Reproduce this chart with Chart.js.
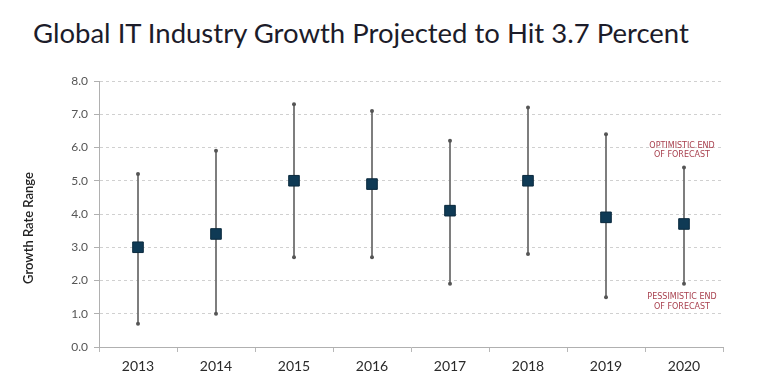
<!DOCTYPE html>
<html>
<head>
<meta charset="utf-8">
<script src="https://cdn.jsdelivr.net/npm/chart.js@4"></script>
<style>
  html, body { margin: 0; padding: 0; background: #fff; }
  #wrap { position: relative; width: 770px; height: 376px; }
  #title {
    position: absolute; left: 33px; top: 19px;
    font-family: Lato, sans-serif; font-size: 27.5px; line-height: 1;
    color: #1c1c2a; white-space: nowrap;
  }
  canvas { position: absolute; left: 0; top: 0; }
</style>
</head>
<body>
<div id="wrap">
  <div id="title">Global IT Industry Growth Projected to Hit 3.7 Percent</div>
  <canvas id="chart" width="770" height="376"></canvas>
</div>
<script>
const years = ['2013', '2014', '2015', '2016', '2017', '2018', '2019', '2020'];
// точка прогноза
const midValues = [3.0, 3.4, 5.0, 4.9, 4.1, 5.0, 3.9, 3.7];
// оптимистичный и пессимистичный концы
const highValues = [5.2, 5.9, 7.3, 7.1, 6.2, 7.2, 6.4, 5.4];
const lowValues = [0.7, 1.0, 2.7, 2.7, 1.9, 2.8, 1.5, 1.9];
const yTicks = [0, 1, 2, 3, 4, 5, 6, 7, 8];

const ranges = lowValues.map((lo, i) => [lo, highValues[i]]);

// подписи у последнего года
const notes = [
  { index: 7, value: highValues[7], lines: ['OPTIMISTIC END', 'OF FORECAST'], above: true },
  { index: 7, value: lowValues[7], lines: ['PESSIMISTIC END', 'OF FORECAST'], above: false },
];

const notesPlugin = {
  id: 'notes',
  afterDatasetsDraw(chart) {
    const { ctx, scales, chartArea } = chart;
    ctx.save();
    ctx.font = '8px "DejaVu Sans", sans-serif';
    ctx.fillStyle = '#a8404e';
    ctx.textAlign = 'center';
    ctx.textBaseline = 'middle';
    notes.forEach((n) => {
      const x = scales.x.getPixelForValue(n.index) - 2;
      const y = scales.y.getPixelForValue(n.value);
      n.lines.forEach((line, k) => {
        const dy = n.above ? -22 + k * 9 : 13 + k * 10;
        ctx.fillText(line, x, y + dy);
      });
    });

    // подпись оси Y, чуть ниже центра
    ctx.font = '600 13px Lato, sans-serif';
    ctx.fillStyle = '#222';
    ctx.translate(29, (chartArea.top + chartArea.bottom) / 2 + 14);
    ctx.rotate(-Math.PI / 2);
    ctx.fillText('Growth Rate Range', 0, 0);
    ctx.restore();
  },
};

new Chart(document.getElementById('chart').getContext('2d'), {
  type: 'bar',
  data: {
    labels: years,
    datasets: [
      {
        type: 'line',
        data: midValues,
        showLine: false,
        pointStyle: 'rect',
        pointRadius: 7.5,
        pointBackgroundColor: '#0f3a55',
        pointBorderColor: '#0b2a3e',
        pointBorderWidth: 1,
        order: 0,
      },
      {
        type: 'line',
        data: highValues,
        showLine: false,
        pointRadius: 2,
        pointBackgroundColor: '#555',
        pointBorderWidth: 0,
        order: 1,
      },
      {
        type: 'line',
        data: lowValues,
        showLine: false,
        pointRadius: 2,
        pointBackgroundColor: '#555',
        pointBorderWidth: 0,
        order: 1,
      },
      {
        data: ranges,
        backgroundColor: '#757575',
        barThickness: 1.2,
        order: 2,
      },
    ],
  },
  options: {
    responsive: false,
    animation: false,
    layout: { padding: { left: 20, right: 47, top: 81, bottom: 0 } },
    plugins: {
      legend: { display: false },
      tooltip: { enabled: false },
    },
    scales: {
      x: {
        offset: true,
        grid: {
          display: true,
          offset: true,
          drawOnChartArea: false,
          drawTicks: true,
          tickLength: 5,
          color: '#b8b8b8',
        },
        border: { color: '#b0b0b0' },
        ticks: {
          color: '#2a2a2a',
          font: { family: 'Lato, sans-serif', size: 14 },
          padding: 6,
        },
        afterFit: (scale) => { scale.height = 29; },
      },
      y: {
        min: 0,
        max: 8,
        afterBuildTicks: (scale) => {
          scale.ticks = yTicks.map((v) => ({ value: v }));
        },
        grid: {
          color: '#d0d0d0',
          tickLength: 5,
          tickColor: '#b0b0b0',
        },
        border: { color: '#b0b0b0', dash: [3, 3] },
        ticks: {
          color: '#555',
          font: { family: 'Lato, sans-serif', size: 12 },
          padding: 6,
          callback: (v) => Number(v).toFixed(1),
        },
        afterFit: (scale) => { scale.width = 79; },
      },
    },
  },
  plugins: [notesPlugin],
});
</script>
</body>
</html>
